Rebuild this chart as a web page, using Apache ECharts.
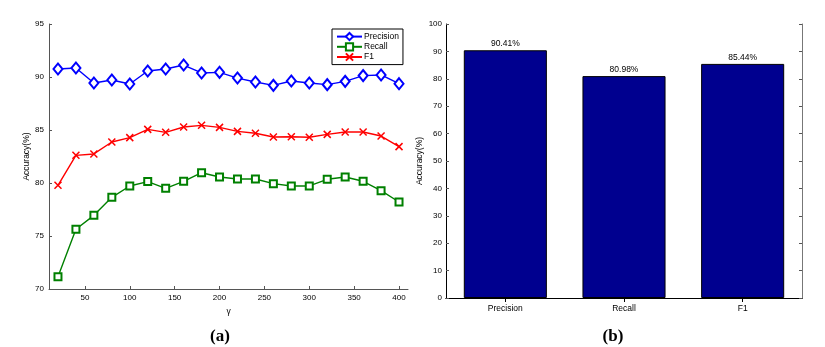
<!DOCTYPE html>
<html><head><meta charset="utf-8">
<script src="https://cdn.jsdelivr.net/npm/echarts@6/dist/echarts.min.js"></script>
<style>html,body{margin:0;padding:0;background:#fff}#c{width:825px;height:347px}</style>
</head><body><div id="c"></div>
<script>
const gammaValues = [20,40,60,80,100,120,140,160,180,200,220,240,260,280,300,320,340,360,380,400];
const precisionValues = [90.75,90.85,89.43,89.72,89.34,90.57,90.75,91.13,90.38,90.44,89.9,89.53,89.21,89.62,89.43,89.28,89.59,90.13,90.19,89.37];
const recallValues = [71.16,75.63,76.95,78.65,79.72,80.13,79.5,80.16,80.97,80.57,80.38,80.38,79.94,79.72,79.72,80.35,80.57,80.16,79.28,78.21];
const f1Values = [79.78,82.61,82.74,83.87,84.28,85.06,84.78,85.28,85.44,85.25,84.87,84.69,84.34,84.37,84.31,84.59,84.81,84.81,84.43,83.43];
const xTickValues = [50,100,150,200,250,300,350,400];
const barCategories = ['Precision','Recall','F1'];
const barValues = [90.41, 80.98, 85.44];

const FONT = 'Liberation Sans';
const axisCol = '#555';
const pairs = arr => gammaValues.map((g,i)=>[g, arr[i]]);

const chart = echarts.init(document.getElementById('c'), null, {renderer:'canvas'});
chart.setOption({
  backgroundColor:'#fff',
  animation:false,
  textStyle:{fontFamily:FONT},
  title:[
    {text:'(a)', left:215, top:323, textAlign:'center', textStyle:{fontFamily:'Liberation Serif', fontSize:17, fontWeight:'bold', color:'#000'}},
    {text:'(b)', left:608, top:323, textAlign:'center', textStyle:{fontFamily:'Liberation Serif', fontSize:17, fontWeight:'bold', color:'#000'}}
  ],
  legend:{
    orient:'vertical', left:332, top:29,
    data:['Precision','Recall','F1'],
    itemWidth:25, itemHeight:9, itemGap:1,
    padding:[3,4,3,4],
    borderColor:'#000', borderWidth:1,
    textStyle:{fontFamily:FONT, fontSize:8.5, color:'#000', padding:[0,0,0,-3]}
  },
  grid:[
    {left:49, right:417, top:24, bottom:58},
    {left:446, right:23, top:24, bottom:49}
  ],
  xAxis:[
    {gridIndex:0, type:'value', min:10, max:410,
     name:'γ', nameLocation:'middle', nameGap:15, nameTextStyle:{fontSize:8.5, color:'#000', fontFamily:FONT},
     axisLine:{lineStyle:{color:axisCol, width:1}},
     axisTick:{inside:true, length:3, customValues:xTickValues, lineStyle:{color:axisCol}},
     axisLabel:{customValues:xTickValues, fontSize:8, color:'#000', margin:5, fontFamily:FONT},
     splitLine:{show:false}},
    {gridIndex:1, type:'category', data:barCategories, position:'bottom',
     axisLine:{lineStyle:{color:'#000', width:1}},
     axisTick:{show:false},
     axisLabel:{fontSize:8.5, color:'#000', margin:6, fontFamily:FONT}},
    {gridIndex:1, type:'category', data:barCategories, position:'top',
     axisLine:{show:true, lineStyle:{color:'#000', width:1}},
     axisTick:{show:true, inside:true, length:4, alignWithLabel:true, lineStyle:{color:'#000', width:1}},
     axisLabel:{show:true, color:'rgba(0,0,0,0)', fontSize:8}}
  ],
  yAxis:[
    {gridIndex:0, type:'value', min:70, max:95, interval:5,
     name:'Accuracy(%)', nameLocation:'middle', nameGap:17, nameTextStyle:{fontSize:8.5, color:'#000', fontFamily:FONT},
     axisLine:{show:true, lineStyle:{color:axisCol, width:1}},
     axisTick:{show:true, inside:true, length:3, lineStyle:{color:axisCol}},
     axisLabel:{fontSize:8, color:'#000', margin:5, fontFamily:FONT},
     splitLine:{show:false}},
    {gridIndex:1, type:'value', min:0, max:100, interval:10, position:'left',
     name:'Accuracy(%)', nameLocation:'middle', nameGap:22, nameTextStyle:{fontSize:8.5, color:'#000', fontFamily:FONT},
     axisLine:{show:true, lineStyle:{color:'#000', width:1}},
     axisTick:{show:true, inside:true, length:3, lineStyle:{color:'#555'}},
     axisLabel:{fontSize:8, color:'#000', margin:4, fontFamily:FONT},
     splitLine:{show:false}},
    {gridIndex:1, type:'value', min:0, max:100, interval:10, position:'right',
     axisLine:{show:true, lineStyle:{color:'#777', width:1}},
     axisTick:{show:true, inside:true, length:3, lineStyle:{color:'#555'}},
     axisLabel:{show:false},
     splitLine:{show:false}}
  ],
  series:[
    {name:'Precision', type:'line', xAxisIndex:0, yAxisIndex:0, data:pairs(precisionValues),
     symbol:'emptyDiamond', symbolSize:[9,11], showAllSymbol:true,
     lineStyle:{color:'#0000ff', width:1.4}, itemStyle:{color:'#0000ff', borderWidth:1.4}},
    {name:'Recall', type:'line', xAxisIndex:0, yAxisIndex:0, data:pairs(recallValues),
     symbol:'emptyRect', symbolSize:7, showAllSymbol:true,
     lineStyle:{color:'#008000', width:1.4}, itemStyle:{color:'#008000', borderWidth:1.4}},
    {name:'F1', type:'line', xAxisIndex:0, yAxisIndex:0, data:pairs(f1Values),
     symbol:'path://M0,0L10,10M0,10L10,0', symbolSize:7, showAllSymbol:true,
     lineStyle:{color:'#ff0000', width:1.4}, itemStyle:{color:'#ff0000', borderColor:'#ff0000', borderWidth:1.5}},
    {name:'bars', type:'bar', xAxisIndex:1, yAxisIndex:1, data:barValues,
     barCategoryGap:'30%', z:1,
     itemStyle:{color:'#00008f', borderColor:'#000', borderWidth:1},
     label:{show:true, position:'top', distance:2, fontSize:8.5, color:'#000', fontFamily:FONT,
            formatter:p=>p.value.toFixed(2)+'%'}}
  ]
});
</script></body></html>
